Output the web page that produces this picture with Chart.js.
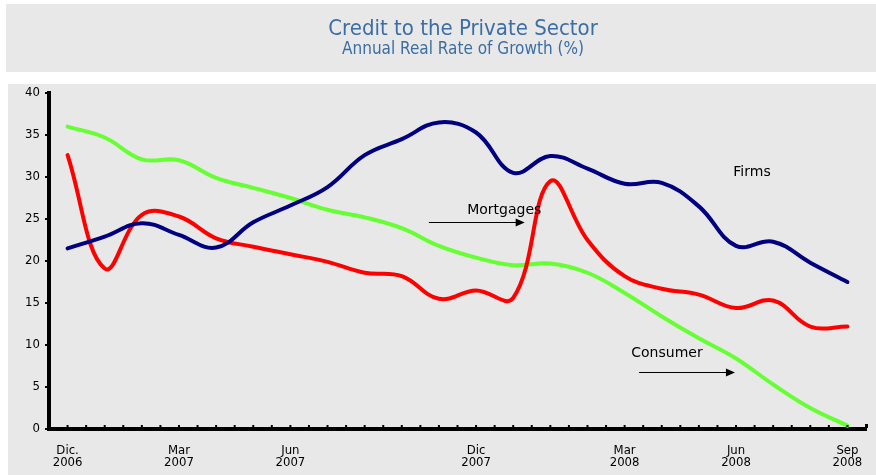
<!DOCTYPE html>
<html>
<head>
<meta charset="utf-8">
<script src="https://cdn.jsdelivr.net/npm/chart.js@4"></script>
<style>
  html, body { margin: 0; padding: 0; background: #fff; }
  #wrap { width: 876px; height: 475px; }
</style>
</head>
<body>
<div id="wrap"><canvas id="myChart" width="876" height="475"></canvas></div>
<script>
// monthly categories, Dec 2006 .. Sep 2008 (only some are labelled)
var months = [
  ['Dic.', '2006'], '', '', ['Mar', '2007'], '', '', ['Jun', '2007'], '', '', '', '',
  ['Dic', '2007'], '', '', '', ['Mar', '2008'], '', '', ['Jun', '2008'], '', '', ['Sep', '2008']
];

// annual real growth rate, %
var firms = [21.5, 22.9, 24.5, 23.1, 21.6, 24.6, 26.6, 28.8, 32.6, 34.5, 36.5,
  35.3, 30.5, 32.5, 31.0, 29.2, 29.3, 26.5, 21.8, 22.3, 19.8, 17.5];
var mortgages = [32.6, 19.1, 25.5, 25.3, 22.7, 21.7, 20.8, 19.9, 18.6, 18.2, 15.5,
  16.5, 15.6, 29.5, 22.5, 18.2, 16.7, 16.0, 14.4, 15.3, 12.2, 12.2];
var consumer = [36.0, 34.7, 32.1, 32.0, 29.9, 28.7, 27.5, 26.1, 25.2, 23.9, 21.8,
  20.4, 19.5, 19.7, 18.6, 16.2, 13.4, 10.8, 8.4, 5.3, 2.5, 0.4];

var yTicks = [0, 40, 5]; // min, max, step

// series labels written on the plot: [text, category index, value]
var seriesNotes = [
  ['Firms', 18.43, 30.5],
  ['Mortgages', 11.76, 26.0],
  ['Consumer', 16.14, 8.95]
];
// arrows: [from index, to index, value]
var arrows = [
  [9.73, 12.31, 24.7],
  [15.39, 17.97, 6.8]
];

var COND = "'DejaVu Sans Condensed', 'DejaVu Sans', sans-serif";
var FONT = "'DejaVu Sans', sans-serif";

var panels = {
  id: 'panels',
  beforeDraw: function(chart) {
    var c = chart.ctx;
    c.save();
    c.fillStyle = '#ffffff';
    c.fillRect(0, 0, chart.width, chart.height);
    c.fillStyle = '#e8e8e8';
    c.fillRect(6, 4, chart.width - 6, 68);
    c.fillRect(8, 84, chart.width - 8, chart.height - 84);
    // heading
    c.fillStyle = '#3a6ea5';
    c.textAlign = 'center';
    c.textBaseline = 'middle';
    c.font = '22px ' + COND;
    c.fillText('Credit to the Private Sector', 463, 29);
    c.font = '17px ' + COND;
    c.fillText('Annual Real Rate of Growth (%)', 463, 50);
    c.restore();
  },
  afterDraw: function(chart) {
    var c = chart.ctx, x = chart.scales.x, y = chart.scales.y;
    var bottom = chart.chartArea.bottom;
    var half = (x.getPixelForValue(1) - x.getPixelForValue(0)) / 2;
    c.save();
    c.fillStyle = '#000';
    // small ticks along the category axis, at centres and boundaries
    for (var i = 0; i < months.length; i++) {
      var px = x.getPixelForValue(i);
      c.fillRect(px - 1, bottom - 4, 2, 2);
      c.fillRect(px - half - 1, bottom - 4, 2, 2);
    }
    c.fillRect(x.getPixelForValue(months.length - 1) + half - 1, bottom - 5, 3, 4);

    // series names and arrows
    c.font = '14px ' + FONT;
    c.textAlign = 'center';
    c.textBaseline = 'middle';
    seriesNotes.forEach(function(n) {
      c.fillText(n[0], x.getPixelForValue(0) + n[1] * half * 2, y.getPixelForValue(n[2]));
    });
    c.strokeStyle = '#000';
    c.lineWidth = 1;
    arrows.forEach(function(a) {
      var x0 = x.getPixelForValue(0) + a[0] * half * 2;
      var x1 = x.getPixelForValue(0) + a[1] * half * 2;
      var ay = Math.round(y.getPixelForValue(a[2])) + 0.5;
      c.beginPath();
      c.moveTo(x0, ay);
      c.lineTo(x1 - 8, ay);
      c.stroke();
      c.beginPath();
      c.moveTo(x1, ay);
      c.lineTo(x1 - 9, ay - 4);
      c.lineTo(x1 - 9, ay + 4);
      c.closePath();
      c.fill();
    });
    c.restore();
  }
};

var ctx = document.getElementById('myChart').getContext('2d');
var myChart = new Chart(ctx, {
  type: 'line',
  data: {
    labels: months,
    datasets: [
      { label: 'Firms', data: firms, borderColor: '#000080' },
      { label: 'Mortgages', data: mortgages, borderColor: '#ff0000' },
      { label: 'Consumer', data: consumer, borderColor: '#66ff33' }
    ]
  },
  options: {
    responsive: false,
    animation: false,
    devicePixelRatio: 1,
    layout: { padding: { top: 93, right: 10, bottom: 0, left: 0 } },
    elements: {
      line: { borderWidth: 4, tension: 0.4, fill: false, borderCapStyle: 'round' },
      point: { radius: 0 }
    },
    plugins: {
      legend: { display: false },
      tooltip: { enabled: false }
    },
    scales: {
      x: {
        type: 'category',
        offset: true,
        grid: { display: false },
        border: { display: true, color: '#000', width: 4 },
        ticks: {
          autoSkip: false,
          maxRotation: 0,
          padding: 7,
          color: '#000',
          font: { family: COND, size: 13, lineHeight: 0.95 }
        },
        afterFit: function(s) { s.height = 46; }
      },
      y: {
        min: yTicks[0],
        max: yTicks[1],
        grid: {
          display: true, drawOnChartArea: false, drawTicks: true,
          tickLength: 4, color: '#000', lineWidth: 2
        },
        border: { display: true, color: '#000', width: 4 },
        ticks: {
          stepSize: yTicks[2],
          padding: 5,
          color: '#000',
          font: { family: COND, size: 13 }
        },
        afterFit: function(s) { s.width = 49; }
      }
    }
  },
  plugins: [panels]
});
</script>
</body>
</html>
